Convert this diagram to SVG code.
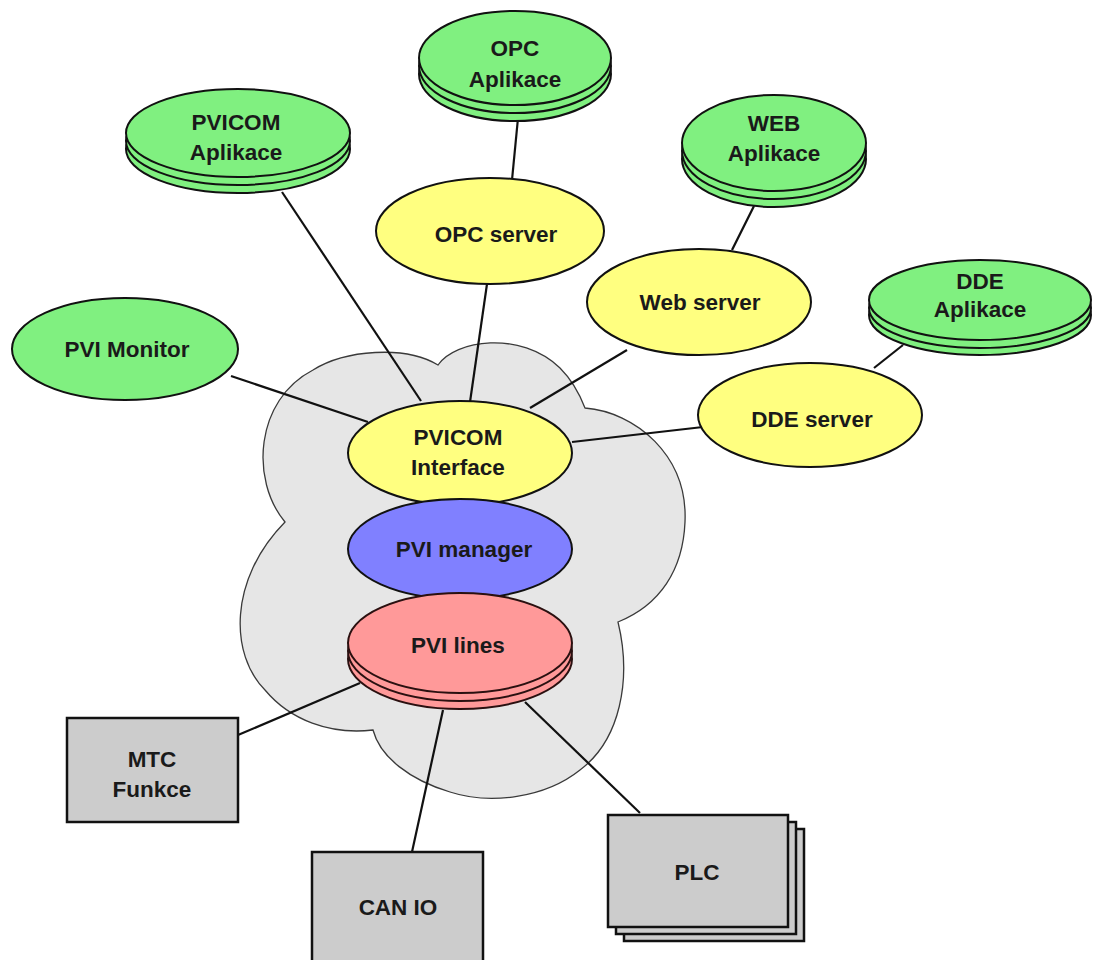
<svg xmlns="http://www.w3.org/2000/svg" width="1094" height="960" viewBox="0 0 1094 960">
<style>
.t{font-family:"Liberation Sans",Arial,sans-serif;font-weight:bold;font-size:22.5px;fill:#1a1a1a;text-anchor:middle}
.g{fill:#80f080;stroke:#111;stroke-width:2}
.y{fill:#ffff80;stroke:#111;stroke-width:2}
.b{fill:#8080ff;stroke:#111;stroke-width:2}
.r{fill:#ff9999;stroke:#2a1010;stroke-width:2}
.box{fill:#cccccc;stroke:#111;stroke-width:2.5}
.c{stroke:#111;stroke-width:2.2;fill:none}
</style>
<rect width="1094" height="960" fill="#ffffff"/>
<g id="cloud">
<path d="M285,522 C250,480 255,400 313,370 C345,350 405,345 438,365 C455,340 520,330 560,368 C572,380 580,395 585,408 C635,412 688,455 685,522 C683,570 660,605 618,622 C632,680 620,740 580,770 C545,798 490,805 450,792 C410,780 380,757 373,730 C330,735 290,720 265,690 C230,655 228,580 285,522 Z" fill="#e6e6e6" stroke="#3a3a3a" stroke-width="1.3"/>
</g>
<g id="connectors" class="c">
<line x1="231" y1="376" x2="368" y2="422"/>
<line x1="282" y1="192" x2="421" y2="401"/>
<line x1="518" y1="118" x2="512" y2="180"/>
<line x1="487" y1="284" x2="470" y2="402"/>
<line x1="754" y1="206" x2="732" y2="250"/>
<line x1="627" y1="350" x2="530" y2="408"/>
<line x1="903" y1="345" x2="874" y2="368"/>
<line x1="703" y1="427" x2="572" y2="442"/>
<line x1="360" y1="683" x2="238" y2="735"/>
<line x1="443" y1="710" x2="412" y2="852"/>
<line x1="525" y1="702" x2="640" y2="813"/>
</g>
<g id="pvicom-aplikace">
<ellipse class="g" cx="238" cy="149" rx="112" ry="44"/>
<ellipse class="g" cx="238" cy="141" rx="112" ry="44"/>
<ellipse class="g" cx="238" cy="133" rx="112" ry="44"/>
<text class="t" x="236" y="130">PVICOM</text>
<text class="t" x="236" y="160">Aplikace</text>
</g>
<g id="opc-aplikace">
<ellipse class="g" cx="515" cy="74" rx="96" ry="47"/>
<ellipse class="g" cx="515" cy="66" rx="96" ry="47"/>
<ellipse class="g" cx="515" cy="58" rx="96" ry="47"/>
<text class="t" x="515" y="56">OPC</text>
<text class="t" x="515" y="87">Aplikace</text>
</g>
<g id="web-aplikace">
<ellipse class="g" cx="774" cy="159" rx="92" ry="48"/>
<ellipse class="g" cx="774" cy="151" rx="92" ry="48"/>
<ellipse class="g" cx="774" cy="143" rx="92" ry="48"/>
<text class="t" x="774" y="131">WEB</text>
<text class="t" x="774" y="161">Aplikace</text>
</g>
<g id="dde-aplikace">
<ellipse class="g" cx="980" cy="315" rx="111" ry="40"/>
<ellipse class="g" cx="980" cy="308" rx="111" ry="40"/>
<ellipse class="g" cx="980" cy="300" rx="111" ry="40"/>
<text class="t" x="980" y="289">DDE</text>
<text class="t" x="980" y="317">Aplikace</text>
</g>
<g id="pvi-monitor">
<ellipse class="g" cx="125" cy="349" rx="113" ry="51"/>
<text class="t" x="127" y="357">PVI Monitor</text>
</g>
<g id="opc-server">
<ellipse class="y" cx="490" cy="231" rx="114" ry="53"/>
<text class="t" x="496" y="242">OPC server</text>
</g>
<g id="web-server">
<ellipse class="y" cx="699" cy="302" rx="112" ry="53"/>
<text class="t" x="700" y="310">Web server</text>
</g>
<g id="dde-server">
<ellipse class="y" cx="810" cy="415" rx="112" ry="52"/>
<text class="t" x="812" y="427">DDE server</text>
</g>
<g id="pvicom-interface">
<ellipse class="y" cx="460" cy="453" rx="112" ry="52"/>
<text class="t" x="458" y="445">PVICOM</text>
<text class="t" x="458" y="475">Interface</text>
</g>
<g id="pvi-manager">
<ellipse class="b" cx="460" cy="549" rx="112" ry="50"/>
<text class="t" x="464" y="557">PVI manager</text>
</g>
<g id="pvi-lines">
<ellipse class="r" cx="460" cy="659" rx="112" ry="50"/>
<ellipse class="r" cx="460" cy="651" rx="112" ry="50"/>
<ellipse class="r" cx="460" cy="643" rx="112" ry="50"/>
<text class="t" x="458" y="653">PVI lines</text>
</g>
<g id="mtc-funkce">
<rect class="box" x="67" y="718" width="171" height="104"/>
<text class="t" x="152" y="767">MTC</text>
<text class="t" x="152" y="797">Funkce</text>
</g>
<g id="can-io">
<rect class="box" x="312" y="852" width="171" height="120"/>
<text class="t" x="398" y="915">CAN IO</text>
</g>
<g id="plc">
<rect class="box" x="624" y="829" width="180" height="112"/>
<rect class="box" x="616" y="822" width="180" height="112"/>
<rect class="box" x="608" y="815" width="180" height="112"/>
<text class="t" x="697" y="880">PLC</text>
</g>
</svg>
